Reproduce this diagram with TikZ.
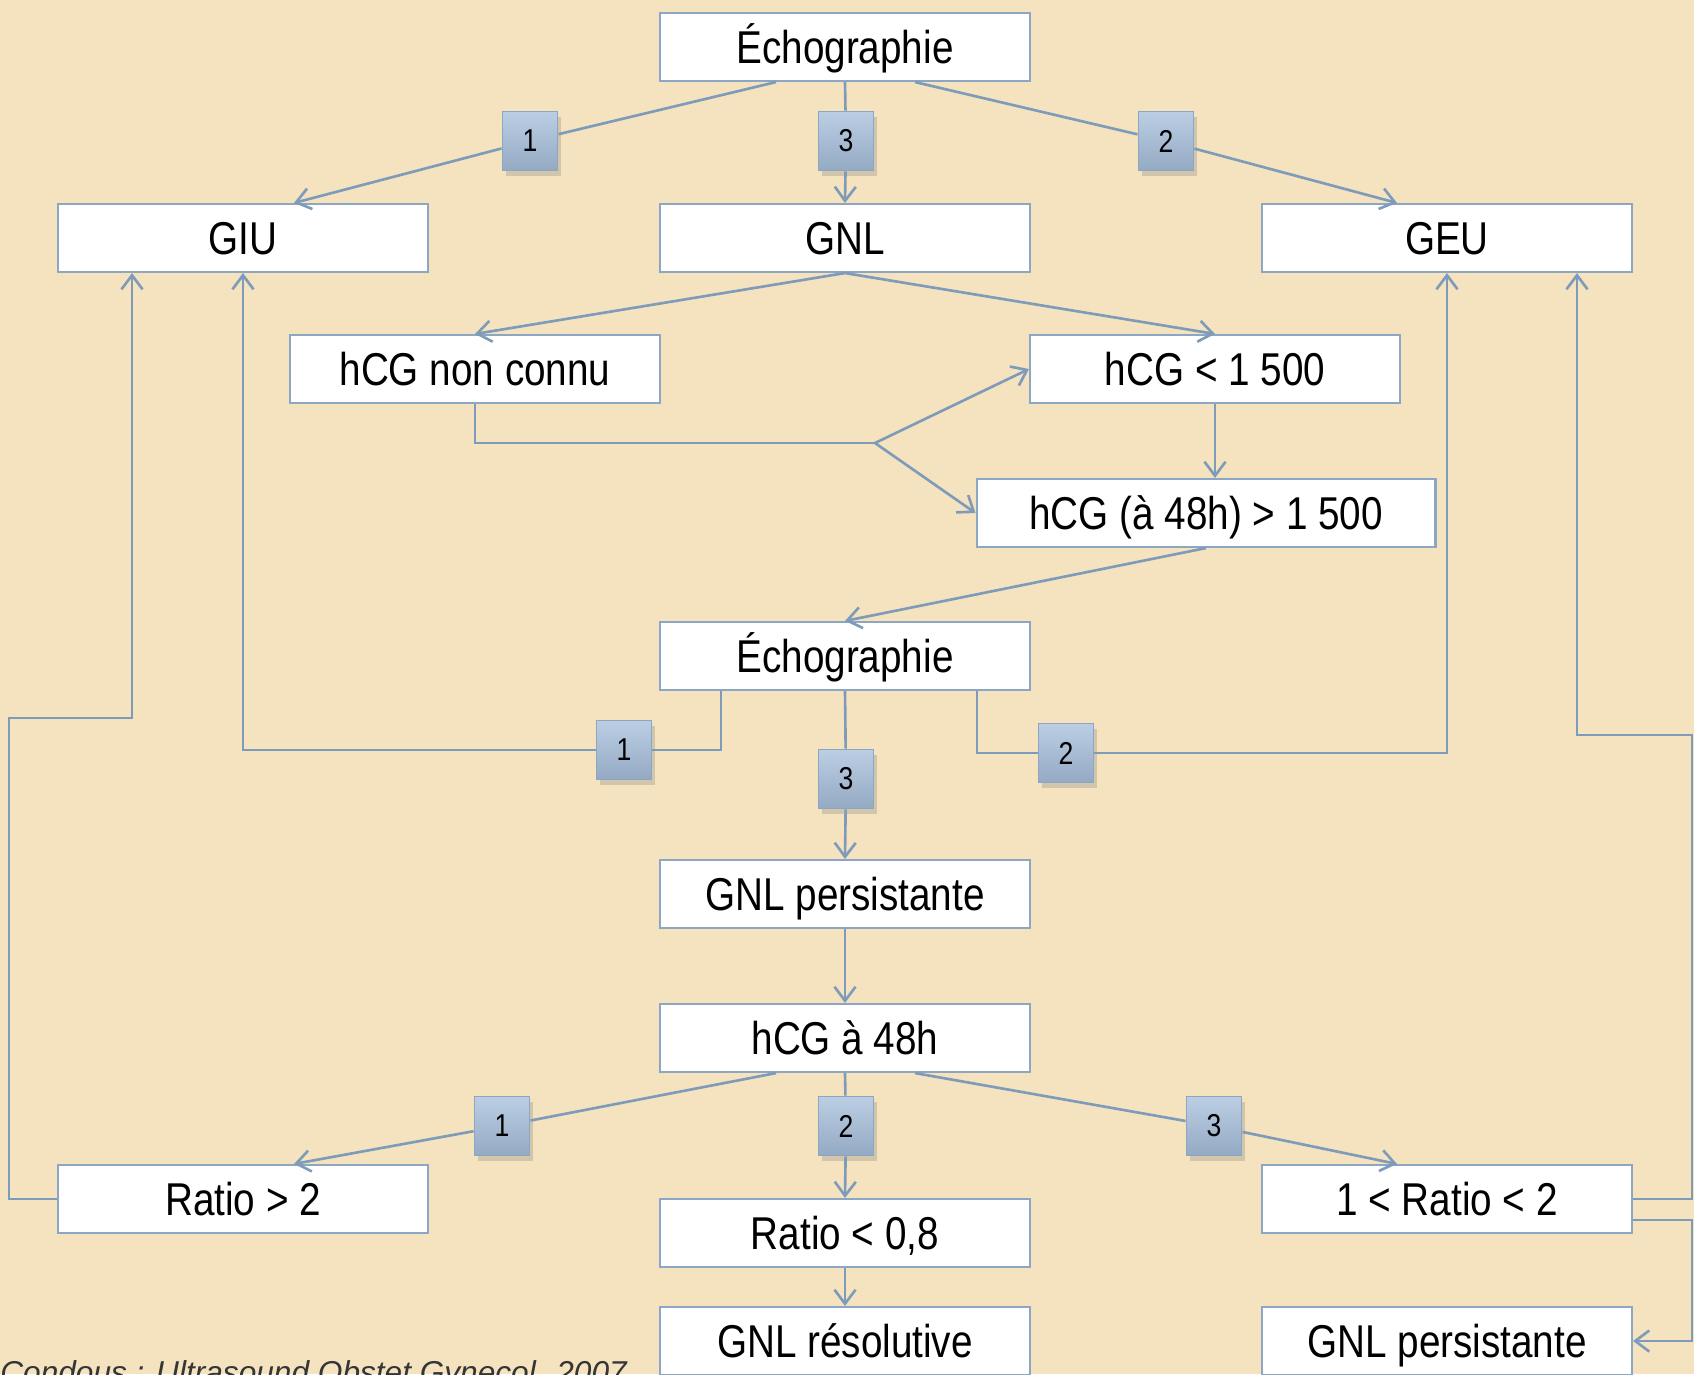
\documentclass[tikz,border=0pt]{standalone}
\usepackage{fontspec}
\setmainfont{Liberation Sans}[FakeStretch=0.84]
\newfontfamily\citefont{Liberation Sans}
\usetikzlibrary{arrows.meta,shadows}

\definecolor{fondbeige}{HTML}{F5E3BF}
\definecolor{lienbleu}{HTML}{7E9BBA}
\definecolor{bordbleu}{HTML}{8DA6C3}
\definecolor{choixhaut}{HTML}{BBCEE4}
\definecolor{choixbas}{HTML}{94AAC3}
\definecolor{gristexte}{HTML}{353535}

\begin{document}
\begin{tikzpicture}[x=0.02cm, y=-0.02cm,
	etape/.style={draw=bordbleu, line width=1.2pt, fill=white, minimum width=7.4cm, minimum height=1.36cm, inner sep=0pt, text height=22pt, text depth=2.7pt, font=\fontsize{26.2}{28}\selectfont},
	choix/.style={draw=bordbleu, line width=1.1pt, top color=choixhaut, bottom color=choixbas, minimum width=1.1cm, minimum height=1.18cm, inner sep=0pt, font=\fontsize{18}{20}\selectfont, drop shadow={opacity=0.3, shadow xshift=2pt, shadow yshift=-3pt}},
	lien/.style={draw=lienbleu, line width=1.5pt},
	fleche/.style={lien, -{Straight Barb[length=8pt, width=12pt]}}]
	\fill[fondbeige] (0,0) rectangle (1694,1374);
	\useasboundingbox (0,0) rectangle (1694,1374);

	% premiere echographie
	\node[etape] (echoA) at (845,47) {Échographie};
	\node[etape] (giu) at (243,238) {GIU};
	\node[etape] (gnl) at (845,238) {GNL};
	\node[etape] (geu) at (1447,238) {GEU};
	\node[choix] (bA1) at (530,141) {1};
	\node[choix] (bA3) at (846,141) {3};
	\node[choix] (bA2) at (1166,141) {2};

	% dosage hCG
	\node[etape] (hcgnc) at (475,369) {hCG non connu};
	\node[etape] (hcglow) at (1215,369) {hCG < 1 500};
	\node[etape, minimum width=9.18cm] (hcghigh) at (1206,513) {hCG (à 48h) > 1 500};

	% seconde echographie
	\node[etape] (echoB) at (845,656) {Échographie};
	\node[choix] (bB1) at (624,750) {1};
	\node[choix] (bB3) at (846,779) {3};
	\node[choix] (bB2) at (1066,753) {2};
	\node[etape] (gnlpers) at (845,894) {GNL persistante};

	% ratio hCG
	\node[etape] (hcg48) at (845,1038) {hCG à 48h};
	\node[choix] (bC1) at (502,1126) {1};
	\node[choix] (bC2) at (846,1126) {2};
	\node[choix] (bC3) at (1214,1126) {3};
	\node[etape] (ratiohigh) at (243,1199) {Ratio > 2};
	\node[etape] (ratiolow) at (845,1233) {Ratio < 0,8};
	\node[etape] (ratiomid) at (1447,1199) {1 < Ratio < 2};
	\node[etape] (gnlres) at (845,1341) {GNL résolutive};
	\node[etape] (gnlpersB) at (1447,1341) {GNL persistante};

	\node[font=\citefont\itshape\fontsize{18}{20}\selectfont, text=gristexte, anchor=base west, inner sep=0pt] (source) at (0,1383) {Condous : Ultrasound Obstet Gynecol. 2007};

	% liens
	\draw[fleche] ([xshift=-1.38cm]echoA.south) -- (bA1) -- ([xshift=1.02cm]giu.north);
	\draw[fleche] (echoA.south) -- (bA3) -- (gnl.north);
	\draw[fleche] ([xshift=1.4cm]echoA.south) -- (bA2) -- ([xshift=-1.0cm]geu.north);

	\draw[fleche] (gnl.south) -- (hcgnc.north);
	\draw[fleche] (gnl.south) -- (hcglow.north);
	\coordinate (fourche) at (875,443);
	\draw[lien] (hcgnc.south) |- (fourche);
	\draw[fleche] (fourche) -- (hcglow.west);
	\draw[fleche] (fourche) -- (hcghigh.west);
	\draw[fleche] (hcglow.south) -- (hcglow.south |- hcghigh.north);
	\draw[fleche] (hcghigh.south) -- (echoB.north);

	\draw[fleche] ([xshift=-2.48cm]echoB.south) |- (bB1) -- (bB1 -| giu.south) -- (giu.south);
	\draw[fleche] (echoB.south) -- (bB3) -- (gnlpers.north);
	\draw[fleche] ([xshift=2.64cm]echoB.south) |- (bB2) -- (bB2 -| geu.south) -- (geu.south);
	\draw[fleche] (gnlpers.south) -- (hcg48.north);

	\draw[fleche] ([xshift=-1.38cm]hcg48.south) -- (bC1) -- ([xshift=1.02cm]ratiohigh.north);
	\draw[fleche] (hcg48.south) -- (bC2) -- (ratiolow.north);
	\draw[fleche] ([xshift=1.4cm]hcg48.south) -- (bC3) -- ([xshift=-1.0cm]ratiomid.north);
	\draw[fleche] (ratiolow.south) -- (gnlres.north);

	% boucles
	\coordinate (boucleG) at (9,718);
	\coordinate (boucleD) at (1692,735);
	\draw[fleche] (ratiohigh.west) -| (boucleG) -| ([xshift=-2.22cm]giu.south);
	\draw[fleche] (ratiomid.east) -| (boucleD) -| ([xshift=2.6cm]geu.south);
	\draw[fleche] ([yshift=-0.42cm]ratiomid.east) -| (boucleD |- gnlpersB.east) -- (gnlpersB.east);
\end{tikzpicture}
\end{document}
